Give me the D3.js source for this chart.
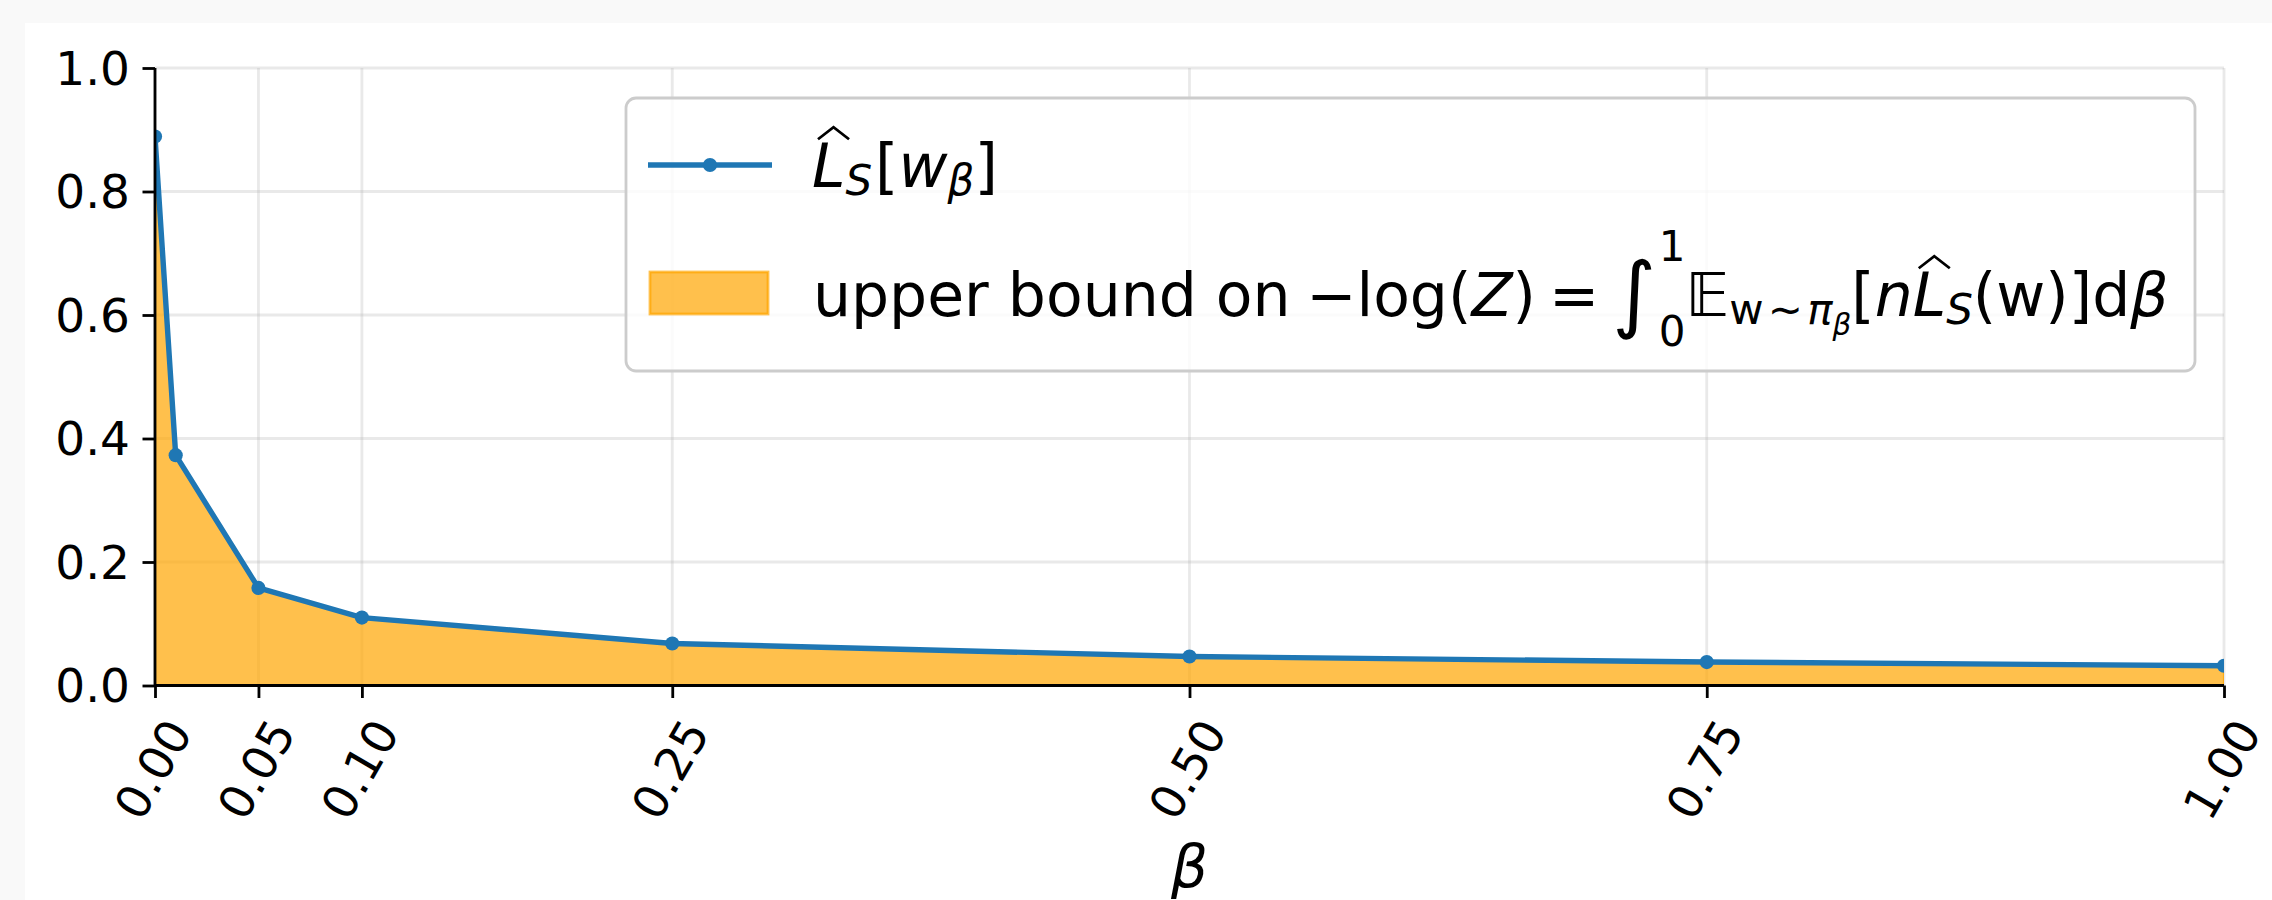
<!DOCTYPE html>
<html>
<head>
<meta charset="utf-8">
<script src="https://cdn.jsdelivr.net/npm/d3@7"></script>
<style>
html,body{margin:0;padding:0;background:#f9f9f9;}
svg{display:block;}
text{font-family:"DejaVu Sans",sans-serif;fill:#000;white-space:pre;}
</style>
</head>
<body>
<svg id="chart" width="2272" height="900"></svg>
<script>
// ---- data ----
const betas = [0, 0.01, 0.05, 0.10, 0.25, 0.50, 0.75, 1.00];
const lossValues = [0.889, 0.373, 0.158, 0.110, 0.068, 0.047, 0.038, 0.032];
const xTicks = [0, 0.05, 0.10, 0.25, 0.50, 0.75, 1.00];
const yTicks = [0, 0.2, 0.4, 0.6, 0.8, 1.0];

const W = 2272, H = 900;
const m = {left:155, right:2224, top:68, bottom:685.5};
const FS = 47;      // tick labels
const LFS = 60;     // legend
const blue = "#1f77b4";

const svg = d3.select("#chart");
svg.append("rect").attr("x",25).attr("y",23).attr("width",W-25).attr("height",H-23).attr("fill","#fff");

const x = d3.scaleLinear().domain([0,1]).range([m.left,m.right]);
const y = d3.scaleLinear().domain([0,1]).range([m.bottom,m.top]);

svg.append("defs").append("clipPath").attr("id","clip")
  .append("rect").attr("x",m.left).attr("y",m.top).attr("width",m.right-m.left).attr("height",m.bottom-m.top);

// grid
const grid = svg.append("g");
grid.selectAll("line.gx").data(xTicks).join("line")
  .attr("x1",d=>x(d)).attr("x2",d=>x(d)).attr("y1",m.top).attr("y2",m.bottom)
  .attr("stroke","#b0b0b0").attr("stroke-opacity",0.28).attr("stroke-width",2.8);
grid.selectAll("line.gy").data(yTicks).join("line")
  .attr("y1",d=>y(d)).attr("y2",d=>y(d)).attr("x1",m.left).attr("x2",m.right)
  .attr("stroke","#b0b0b0").attr("stroke-opacity",0.28).attr("stroke-width",2.8);

const pts = betas.map((b,i)=>[b,lossValues[i]]);
const plot = svg.append("g").attr("clip-path","url(#clip)");
plot.append("path").datum(pts)
  .attr("d", d3.area().x(d=>x(d[0])).y0(y(0)).y1(d=>y(d[1])))
  .attr("fill","#ffa500").attr("fill-opacity",0.7)
  .attr("stroke","#ffa500").attr("stroke-opacity",0.7).attr("stroke-width",2);
plot.append("path").datum(pts)
  .attr("d", d3.line().x(d=>x(d[0])).y(d=>y(d[1])))
  .attr("fill","none").attr("stroke",blue).attr("stroke-width",5.4).attr("stroke-linejoin","round");
plot.selectAll("circle").data(pts).join("circle")
  .attr("cx",d=>x(d[0])).attr("cy",d=>y(d[1])).attr("r",7.1).attr("fill",blue);

// axes
const xAxis = svg.append("g").attr("transform",`translate(0,${m.bottom})`)
  .call(d3.axisBottom(x).tickValues(xTicks).tickSize(12.5).tickFormat(""));
const yAxis = svg.append("g").attr("transform",`translate(${m.left},0)`)
  .call(d3.axisLeft(y).tickValues(yTicks).tickSize(12.5).tickFormat(""));
[xAxis,yAxis].forEach(a=>{
  a.select(".domain").attr("stroke","#000").attr("stroke-width",2.8);
  a.selectAll(".tick line").attr("stroke","#000").attr("stroke-width",2.8);
});
xAxis.select(".domain").attr("d",`M${m.left},0H${m.right}`);
yAxis.select(".domain").attr("d",`M0,${m.bottom}V${m.top}`);

// y tick labels
svg.selectAll("text.yl").data(yTicks).join("text")
  .attr("x",m.left-25).attr("y",d=>y(d)).attr("dy","0.36em")
  .attr("text-anchor","end").attr("font-size",FS).text(d=>d3.format(".1f")(d));

// x tick labels rotated 60
const ang = 60*Math.PI/180;
xTicks.forEach(t=>{
  const lbl = d3.format(".2f")(t);
  const txt = svg.append("text").attr("font-size",FS).attr("text-anchor","middle")
    .attr("dominant-baseline","central").text(lbl);
  const w = txt.node().getComputedTextLength();
  const h = FS*1.16;
  const Hb = w*Math.sin(ang)+h*Math.cos(ang);
  const cy = m.bottom + 25 + Hb/2;
  txt.attr("transform",`translate(${x(t)-2},${cy}) rotate(-60)`);
});

// x label
svg.append("text").attr("x",(m.left+m.right)/2).attr("y",887).attr("text-anchor","middle")
  .attr("font-size",58).attr("font-style","italic").text("β");

// ---- legend ----
const leg = svg.append("g");
leg.append("rect").attr("x",626).attr("y",98).attr("width",2195-626).attr("height",371-98)
  .attr("rx",10).attr("fill","#fff").attr("fill-opacity",0.8)
  .attr("stroke","#cccccc").attr("stroke-width",2.8);
leg.append("line").attr("x1",648).attr("x2",772).attr("y1",165).attr("y2",165)
  .attr("stroke",blue).attr("stroke-width",5.4);
leg.append("circle").attr("cx",710).attr("cy",165).attr("r",7.1).attr("fill",blue);
leg.append("rect").attr("x",650).attr("y",272).attr("width",118).attr("height",42)
  .attr("fill","#ffa500").attr("fill-opacity",0.7).attr("stroke","#ffa500").attr("stroke-opacity",0.7).attr("stroke-width",2.8);

// mini math layout
function drawMath(g, x0, base, tokens){
  let cx = x0;
  let stackStart = null, stackMax = 0;
  tokens.forEach(tk=>{
    if(tk.space){ cx += tk.space*LFS; return; }
    const s = tk.s||1;
    const fs = LFS*s;
    const tx = tk.stack===2 ? stackStart : cx;
    const by = base-(tk.dy||0)*LFS;
    const t = g.append("text").attr("x",tx).attr("y",by)
      .attr("font-size",fs).attr("font-style",tk.it?"italic":"normal").text(tk.t);
    const w = t.node().getComputedTextLength();
    if(tk.hat){
      const hx0 = tx+0.10*fs, hx1 = tx+w+0.06*fs;
      const hy = by-0.729*fs-4;
      g.append("path").attr("d",`M${hx0},${hy}L${(hx0+hx1)/2},${hy-12}L${hx1},${hy}`)
        .attr("fill","none").attr("stroke","#000").attr("stroke-width",2.8);
    }
    if(tk.stack===1){ stackStart = cx; stackMax = w; return; }
    if(tk.stack===2){ cx = stackStart + Math.max(stackMax,w); return; }
    cx += w;
  });
  return cx;
}

const row1 = [
  {t:"L",it:true,hat:true},
  {t:"S",it:true,s:0.7,dy:-0.14},
  {space:0.05},
  {t:"["},
  {t:"w",it:true},
  {t:"β",it:true,s:0.7,dy:-0.14},
  {t:"]"}
];
drawMath(leg, 812, 187, row1);

const row2 = [
  {t:"upper bound on"},
  {space:0.26},
  {t:"−"},{t:"log"},{t:"("},{t:"Z",it:true},{t:")"},
  {space:0.22},{t:"="},{space:0.22},
  {t:"∫",s:1.4,dy:-0.1},
  {space:0.04},
  {t:"1",s:0.7,dy:0.92,stack:1},
  {t:"0",s:0.7,dy:-0.5,stack:2},
  {t:"𝔼",it:true},
  {t:"w",s:0.7,dy:-0.14},{space:0.07},{t:"∼",s:0.7,dy:-0.14},{space:0.07},{t:"π",it:true,s:0.7,dy:-0.14},
  {t:"β",it:true,s:0.49,dy:-0.32},
  {t:"["},{t:"n",it:true},{t:"L",it:true,hat:true},{t:"S",it:true,s:0.7,dy:-0.14},
  {t:"(w)"},{t:"]"},{t:"d"},{t:"β",it:true}
];
drawMath(leg, 813, 316, row2);
</script>
</body>
</html>
